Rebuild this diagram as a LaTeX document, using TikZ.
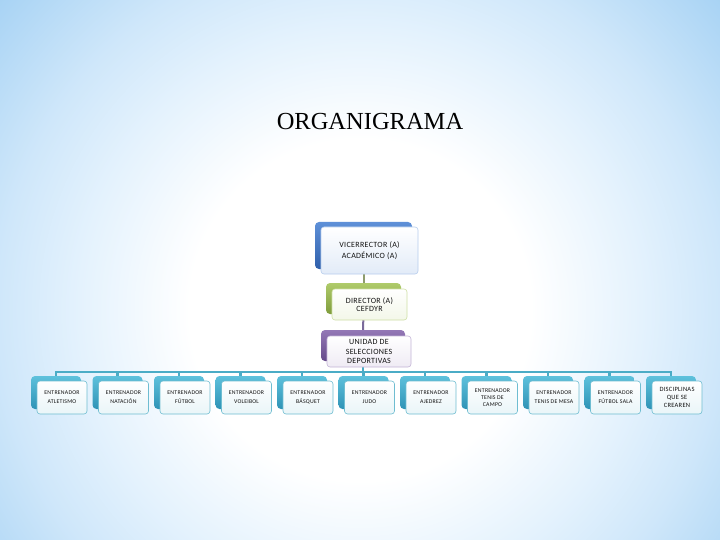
\documentclass[tikz,border=0pt]{standalone}
\usepackage{fontspec}
\setmainfont{Liberation Serif}
\newfontfamily\boxfont{Carlito}[LetterSpace=4]
\definecolor{bgA}{HTML}{E4F2FD}
\definecolor{bgB}{HTML}{CFE7FA}
\definecolor{bgC}{HTML}{A6D2F4}
\definecolor{tealA}{HTML}{5EC1DC}
\definecolor{tealB}{HTML}{2F93B6}
\definecolor{tealL}{HTML}{4BACC6}
\definecolor{blueA}{HTML}{5E90D8}
\definecolor{blueB}{HTML}{2F5FAA}
\definecolor{greenA}{HTML}{AFCB6A}
\definecolor{greenB}{HTML}{7F9C3C}
\definecolor{purpA}{HTML}{9478B6}
\definecolor{purpB}{HTML}{654A8A}
\definecolor{conG}{HTML}{8E9C6E}
\definecolor{conP}{HTML}{7A6A9A}
\definecolor{txt}{HTML}{111111}
\pgfdeclareradialshading{bgsh}{\pgfpoint{0bp}{0bp}}{color(0bp)=(white); color(170bp)=(white); color(280bp)=(bgA); color(360bp)=(bgB); color(480bp)=(bgC)}
\pgfdeclarelayer{bglayer}
\pgfdeclarelayer{connlayer}
\pgfsetlayers{bglayer,connlayer,main}
\begin{document}
\begin{tikzpicture}[x=1pt,y=-1pt,
  backbox/.style={rounded corners=4pt, inner sep=0pt, outer sep=0pt},
  frontbox/.style={rounded corners=3pt, inner sep=0pt, outer sep=0pt, align=center, text=txt, line width=0.6pt},
  cback/.style={backbox, top color=tealA, bottom color=tealB, minimum width=50pt, minimum height=33pt},
  cfront/.style={frontbox, top color=white, bottom color=tealL!12, draw=tealL!80, minimum width=50pt, minimum height=33pt},
  bus/.style={draw=tealL, line width=2.5pt},
  mainfont/.style={font={\boxfont\fontsize{8}{9.2}\selectfont}}
]
\useasboundingbox (0,0) rectangle (720,540);
\begin{pgfonlayer}{bglayer}
\begin{scope}
  \clip (0,0) rectangle (720,540);
  \node[inner sep=0pt, outer sep=0pt] (bg) at (360,310) {\pgfuseshading{bgsh}};
\end{scope}
\end{pgfonlayer}

\node[anchor=base, inner sep=0pt, text=black, font=\fontsize{24.5}{28}\selectfont] (title) at (370,130) {ORGANIGRAMA};

% main chain
\node[backbox, top color=blueA, bottom color=blueB, minimum width=97pt, minimum height=47pt] (vb) at (363.5,245.5) {};
\node[frontbox, top color=white, bottom color=blueA!18, draw=blueA!45, minimum width=97pt, minimum height=47pt, font={\boxfont\fontsize{8}{11.7}\selectfont}] (v) at (369.5,250.5) {VICERRECTOR (A)\\ACADÉMICO (A)};

\node[backbox, top color=greenA, bottom color=greenB, minimum width=75pt, minimum height=31pt] (db) at (363.5,298.5) {};
\node[frontbox, top color=white, bottom color=greenA!15, draw=greenA!60, minimum width=75pt, minimum height=31pt, font={\boxfont\fontsize{8}{8.8}\selectfont}] (d) at (369.5,304.5) {DIRECTOR (A)\\CEFDYR};

\node[backbox, top color=purpA, bottom color=purpB, minimum width=84pt, minimum height=31pt] (ub) at (363,345.5) {};
\node[frontbox, mainfont, top color=white, bottom color=purpA!15, draw=purpA!55, minimum width=84pt, minimum height=31pt] (u) at (369,351.5) {UNIDAD DE\\SELECCIONES\\DEPORTIVAS};

\coordinate (busy) at (0,372);

% children
\foreach \t/\ls [count=\i from 0] in {{ENTRENADOR\\ATLETISMO}/9,{ENTRENADOR\\NATACIÓN}/9,{ENTRENADOR\\FÚTBOL}/9,{ENTRENADOR\\VOLEIBOL}/9,{ENTRENADOR\\BÁSQUET}/9,{ENTRENADOR\\JUDO}/9,{ENTRENADOR\\AJEDREZ}/9,{ENTRENADOR\\TENIS DE\\CAMPO}/6.7,{ENTRENADOR\\TENIS DE MESA}/9,{ENTRENADOR\\FÚTBOL SALA}/9}{
  \node[cback] (cb\i) at ({56+61.5*\i},392.5) {};
  \node[cfront, font={\boxfont\fontsize{5.8}{\ls}\selectfont}] (c\i) at ({62+61.5*\i},397.5) {\t};
}
\node[cback] (cb10) at (671,392.5) {};
\node[cfront, font={\boxfont\fontsize{6.5}{8.3}\selectfont}] (c10) at (677,397.5) {DISCIPLINAS\\QUE SE\\CREAREN};

% connectors
\begin{pgfonlayer}{connlayer}
\draw[draw=conG, line width=2pt] (vb.south) -- (db.north);
\draw[draw=conP, line width=2pt] (db.south) -- (ub.north);
\draw[bus] (ub.south) -- (ub.south |- busy);
\draw[bus] (cb0.north) |- (cb10.north |- busy) -- (cb10.north);
\foreach \i in {1,...,9}{
  \draw[bus] (cb\i.north |- busy) -- (cb\i.north);
}
\end{pgfonlayer}
\end{tikzpicture}
\end{document}
